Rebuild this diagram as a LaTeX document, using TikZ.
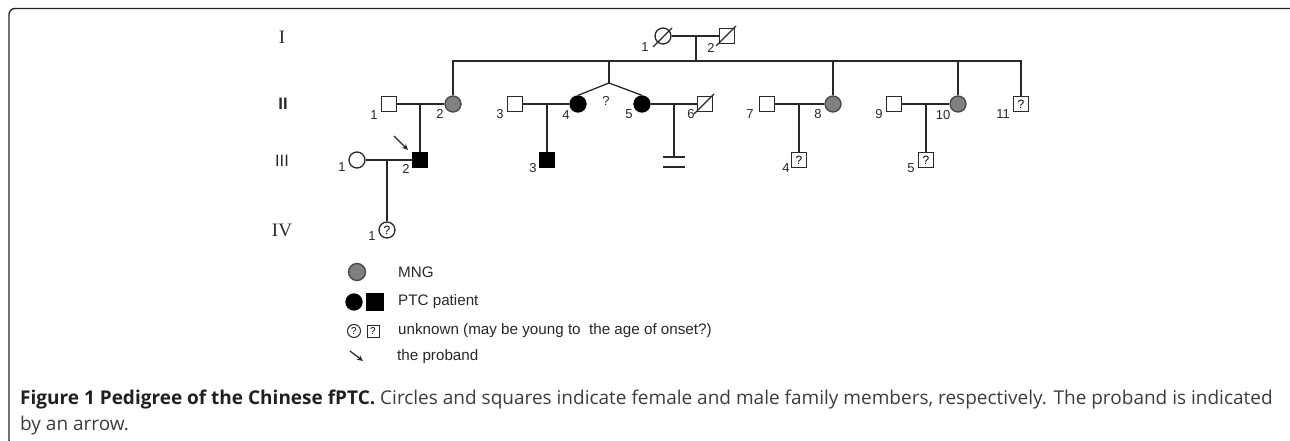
\documentclass[tikz,border=0pt]{standalone}
\usepackage{fontspec}
\setmainfont{Liberation Sans}
\newfontfamily\capfont{Open Sans}
\newfontfamily\genserif{Liberation Serif}
\usetikzlibrary{arrows.meta}
\definecolor{linec}{RGB}{40,40,40}
\definecolor{mngc}{RGB}{128,128,128}
\definecolor{mngd}{RGB}{70,70,70}
\definecolor{framec}{RGB}{35,35,35}
\definecolor{capc}{RGB}{60,60,60}
\definecolor{capb}{RGB}{35,31,32}
\begin{document}
\begin{tikzpicture}[x=1pt,y=-1pt,
  ln/.style={line width=1.3pt, draw=linec},
  male/.style={draw=linec, line width=1.3pt, rectangle, minimum size=15pt, inner sep=0pt, fill=white},
  female/.style={draw=linec, line width=1.3pt, circle, minimum size=16pt, inner sep=0pt, fill=white},
  mng/.style={fill=mngc, draw=mngd},
  ptc/.style={fill=black, draw=black},
  unk/.style={font=\fontsize{12}{12}\selectfont},
  unksmall/.style={font=\fontsize{10}{10}\selectfont},
  num/.style={font=\fontsize{13}{13}\selectfont, inner sep=0pt, text=linec},
  gen/.style={font=\fontsize{16}{16}\selectfont, inner sep=0pt, text=linec},
  legtxt/.style={font=\fontsize{15.2}{15.2}\selectfont, inner sep=0pt, anchor=west, text=linec},
  capline/.style={font=\capfont\fontsize{19}{26}\selectfont, inner sep=0pt, anchor=base west, text=capc},
  probarrow/.style={line width=1.3pt, draw=linec, -{Stealth[length=6pt,width=5.5pt]}}
]
\useasboundingbox (0,0) rectangle (1290,441);
% frame
\draw[line width=1.3pt, draw=framec, rounded corners=6pt] (1300,8.5) -- (9,8.5) -- (9,446) -- (40,446);

% generation labels
\node[gen, font=\genserif\fontsize{19}{19}\selectfont] (gI) at (282,37) {I};
\node[gen, font=\bfseries\fontsize{16.5}{16.5}\selectfont] (gII) at (283,104) {II};
\node[gen, font=\fontsize{16.5}{16.5}\selectfont] (gIII) at (282,161) {III};
\node[gen, font=\genserif\fontsize{19}{19}\selectfont] (gIV) at (282,230) {IV};

% coordinates
\coordinate (sib) at (0,61);

% generation I
\node[female] (i1) at (663,36) {};
\node[male] (i2) at (727,36) {};
\draw[ln] ([shift={(-10,11)}]i1.center) -- ([shift={(9,-8)}]i1.center);
\draw[ln] ([shift={(-11,10)}]i2.center) -- ([shift={(9,-10)}]i2.center);
\node[num] (li1) at (645,47) {1};
\node[num] (li2) at (711,48) {2};

% generation II
\node[male] (ii1) at (389,104) {};
\node[female, mng] (ii2) at (453,104) {};
\node[male] (ii3) at (515,104) {};
\node[female, ptc] (ii4) at (578,104) {};
\node[female, ptc] (ii5) at (642,104) {};
\node[male] (ii6) at (705,104) {};
\draw[ln] ([shift={(-11,10)}]ii6.center) -- ([shift={(9,-10)}]ii6.center);
\node[male] (ii7) at (767,104) {};
\node[female, mng] (ii8) at (833,104) {};
\node[male] (ii9) at (894,104) {};
\node[female, mng] (ii10) at (958,104) {};
\node[male, unk] (ii11) at (1021,104) {?};
\node[num] (lii1) at (374,115) {1};
\node[num] (lii2) at (440,114) {2};
\node[num] (lii3) at (500,114) {3};
\node[num] (lii4) at (566,115) {4};
\node[num] (qtw) at (606,101) {?};
\node[num] (lii5) at (629,114) {5};
\node[num] (lii6) at (691,114) {6};
\node[num] (lii7) at (750,114) {7};
\node[num] (lii8) at (818,114) {8};
\node[num] (lii9) at (879,114) {9};
\node[num] (lii10) at (943,115) {10};
\node[num] (lii11) at (1003,114) {11};

% generation III
\node[female] (iii1) at (357,160) {};
\node[male, ptc] (iii2) at (420,160) {};
\node[male, ptc] (iii3) at (547,160) {};
\coordinate (nc) at (674,157);
\node[male, unk] (iii4) at (799,160) {?};
\node[male, unk] (iii5) at (926,160) {?};
\node[num] (liii1) at (342,167) {1};
\node[num] (liii2) at (406,169) {2};
\node[num] (liii3) at (533,168) {3};
\node[num] (liii4) at (786,168) {4};
\node[num] (liii5) at (911,168) {5};
\coordinate (pa1) at (394,136);
\coordinate (pa2) at (408,150);
\draw[probarrow] (pa1) -- (pa2);

% generation IV
\node[female, unk] (iv1) at (387,230) {?};
\node[num] (liv1) at (372,236) {1};

% marriages and descent
\coordinate (m1) at (696,36);
\draw[ln] (i1.east) -- (i2.west);
\draw[ln] (m1) -- (m1 |- sib);
\draw[ln] (ii2.north) -- (ii2.north |- sib) -- (ii11.north |- sib) -- (ii11.north);
\draw[ln] (ii8.north) -- (ii8.north |- sib);
\draw[ln] (ii10.north) -- (ii10.north |- sib);
\coordinate (apex) at (609,83);
\draw[ln] (apex |- sib) -- (apex);
\draw[ln] (ii4.north) -- (apex) -- (ii5.north);

\draw[ln] (ii1.east) -- (ii2.west);
\draw[ln] (iii2.north |- ii1) -- (iii2.north);
\draw[ln] (ii3.east) -- (ii4.west);
\draw[ln] (iii3.north |- ii3) -- (iii3.north);
\draw[ln] (ii5.east) -- (ii6.west);
\draw[ln] (nc |- ii5) -- (nc);
\draw[ln] ([xshift=-11pt]nc) -- ([xshift=11pt]nc);
\draw[ln] ([shift={(-11,10)}]nc) -- ([shift={(11,10)}]nc);
\draw[ln] (ii7.east) -- (ii8.west);
\draw[ln] (iii4.north |- ii7) -- (iii4.north);
\draw[ln] (ii9.east) -- (ii10.west);
\draw[ln] (iii5.north |- ii9) -- (iii5.north);
\draw[ln] (iii1.east) -- (iii2.west);
\coordinate (m31) at (387,160);
\draw[ln] (m31) -- (iv1.north);

% legend
\node[female, mng, minimum size=17pt] (lg1) at (357,272) {};
\node[legtxt] (lt1) at (398,272) {MNG};
\node[female, ptc] (lg2a) at (354,302) {};
\node[male, ptc, minimum size=16pt] (lg2b) at (375,302) {};
\node[legtxt] (lt2) at (398,302) {PTC patient};
\node[female, unksmall, minimum size=13pt, line width=1pt] (lg3a) at (354,331) {?};
\node[male, unksmall, minimum size=12pt, line width=1pt] (lg3b) at (373,331) {?};
\node[legtxt] (lt3) at (398,331) {unknown (may be young to\ \ the age of onset?)};
\coordinate (la1) at (350,351);
\coordinate (la2) at (363,361);
\draw[probarrow] (la1) -- (la2);
\node[legtxt] (lt4) at (397,357) {the proband};

% caption
\node[capline] (cap1) at (20,404) {\textcolor{capb}{\textbf{Figure 1 Pedigree of the Chinese fPTC.}} Circles and squares indicate female and male family members, respectively. The proband is indicated};
\node[capline] (cap2) at (20,430) {by an arrow.};
\end{tikzpicture}
\end{document}
